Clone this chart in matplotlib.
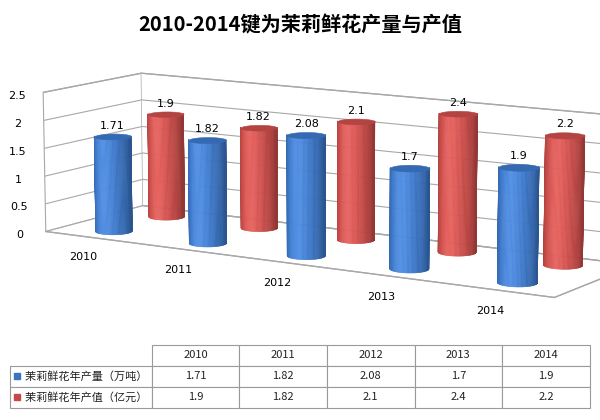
import numpy as np
import matplotlib.pyplot as plt
from matplotlib.colors import to_rgb
from mpl_toolkits.mplot3d.art3d import Poly3DCollection

plt.rcParams['font.family'] = ['Noto Sans CJK SC', 'DejaVu Sans']

years = ['2010', '2011', '2012', '2013', '2014']
output = [1.71, 1.82, 2.08, 1.7, 1.9]   # 万吨
value = [1.9, 1.82, 2.1, 2.4, 2.2]      # 亿元
series = ['茉莉鲜花年产量（万吨）', '茉莉鲜花年产值（亿元）']
colors = ['#3A73C2', '#C44A47']
z_ticks = [0, 0.5, 1, 1.5, 2, 2.5]
z_labels = ['0', '0.5', '1', '1.5', '2', '2.5']

ELEV, AZIM = 10, -58

fig = plt.figure(figsize=(6, 4.2), dpi=100)
fig.text(0.5, 0.94, '2010-2014键为茉莉鲜花产量与产值', ha='center', va='center',
         fontsize=14.5, fontweight='bold')

ax = fig.add_axes([0.022, -0.178, 1.033, 1.476], projection='3d',
                  computed_zorder=False)
ax.view_init(elev=ELEV, azim=AZIM)
ax.set_proj_type('persp', focal_length=0.8)

theta = np.linspace(0, 2 * np.pi, 97)
mid = (theta[:-1] + theta[1:]) / 2
rx, ry = 0.16, 0.22
depth = [0.45, 1.55]
cam = np.deg2rad(AZIM)
light = cam - np.deg2rad(25)


def cylinder(xc, yc, h, color, z0):
    base = np.array(to_rgb(color))
    verts, cols = [], []
    for t0, t1, tm in zip(theta[:-1], theta[1:], mid):
        if np.cos(tm - cam) < -0.15:
            continue
        p0 = (xc + rx * np.cos(t0), yc + ry * np.sin(t0))
        p1 = (xc + rx * np.cos(t1), yc + ry * np.sin(t1))
        verts.append([(*p0, 0), (*p1, 0), (*p1, h), (*p0, h)])
        lit = max(np.cos(tm - light), 0)
        cols.append(np.clip(base * (0.74 + 0.34 * lit) + 0.07 * lit ** 8, 0, 1))
    side = Poly3DCollection(verts, facecolors=cols, edgecolors=cols,
                            linewidths=0.4, zorder=z0)
    ax.add_collection3d(side)
    top = [[(xc + rx * np.cos(t), yc + ry * np.sin(t), h) for t in theta]]
    tc = base * 0.92
    ax.add_collection3d(Poly3DCollection(top, facecolors=[tc], edgecolors=[tc],
                                         linewidths=0.4, zorder=z0 + 1))


# back row (value) first, then front row (output); left to right
order = 10
for s, vals in ((1, value), (0, output)):
    for i, v in enumerate(vals):
        cylinder(i, depth[s], v, colors[s], order)
        order += 2
        ax.text(i, depth[s], v + 0.1, f'{v:g}', ha='center', va='bottom',
                fontsize=8, family='DejaVu Sans', zorder=1000)

ax.set_xlim(-0.5, 4.5)
ax.set_ylim(0, 2)
ax.set_zlim(0, 2.5)
ax.set_box_aspect((601, 174, 148), zoom=0.99)
ax.set_xticks(range(len(years)))
ax.set_xticklabels(years, fontsize=8, family='DejaVu Sans')
ax.set_yticks([])
ax.set_zticks(z_ticks)
ax.set_zticklabels(z_labels, fontsize=8, family='DejaVu Sans')
ax.zaxis.set_ticks_position('lower')

for axis in (ax.xaxis, ax.yaxis, ax.zaxis):
    axis.set_pane_color((1, 1, 1, 1))
    axis.pane.set_edgecolor('#a8a8a8')
    axis.line.set_color('#a8a8a8')
    axis.label.set_visible(False)
    axis.offsetText.set_visible(False)
    axis._axinfo['tick']['inward_factor'] = 0
    axis._axinfo['tick']['outward_factor'] = 0
    axis._axinfo['grid']['color'] = (1, 1, 1, 0)
ax.zaxis._axinfo['grid'].update(color='#a8a8a8', linewidth=0.8)
ax.tick_params(axis='x', pad=12)
ax.tick_params(axis='z', pad=3)

# data table
tax = fig.add_axes([0, 0, 1, 1])
tax.axis('off')
cells = [[''] + years,
         ['    ' + series[0]] + [f'{v:g}' for v in output],
         ['    ' + series[1]] + [f'{v:g}' for v in value]]
tbl = tax.table(cellText=cells, colWidths=[142] + [88] * 5,
                bbox=[0.017, 0.029, 0.966, 0.15], cellLoc='center')
tbl.auto_set_font_size(False)
tbl.set_fontsize(8)
for (r, c), cell in tbl.get_celld().items():
    cell.set_edgecolor('#9a9a9a')
    cell.set_linewidth(0.8)
    cell.get_text().set_color('#222222')
    if c == 0:
        cell._loc = 'left'
        cell.PAD = 0.02
tbl[0, 0].visible_edges = ''
for r, col in ((1, colors[0]), (2, colors[1])):
    y = 0.029 + 0.15 * (2.5 - r) / 3
    tax.plot([0.028], [y], marker='s', markersize=4.5, color=col,
             transform=tax.transAxes)

fig.savefig('out.png', dpi=100)
